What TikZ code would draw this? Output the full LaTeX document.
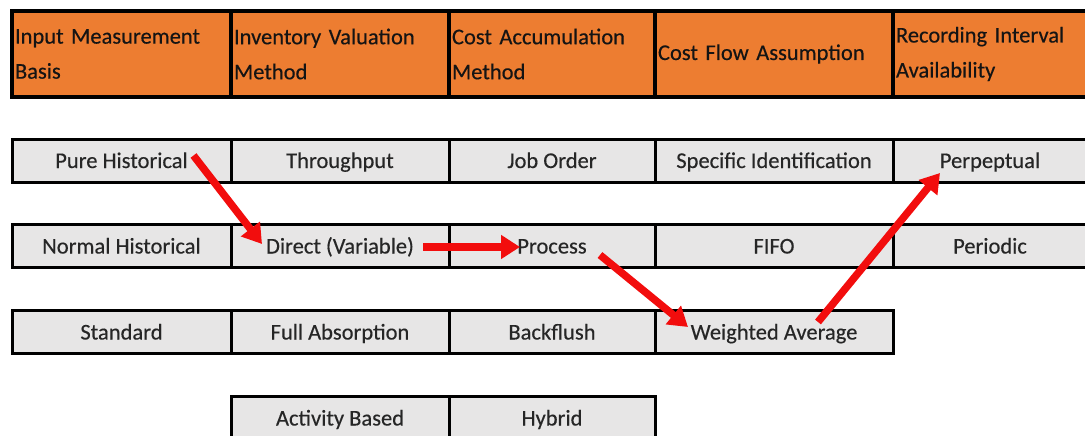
\documentclass[tikz,border=0pt]{standalone}
\usepackage{fontspec}
\setmainfont{Carlito}
\newfontfamily\cellfont{Carlito}[FakeBold=0.35]
\usetikzlibrary{arrows.meta}

\definecolor{headorange}{HTML}{ED7D31}
\definecolor{cellgray}{HTML}{E7E6E6}
\definecolor{flowred}{HTML}{F20D0D}

\tikzset{
  cell/.style={draw=black, line width=3pt, fill=cellgray, text=black!85,
    minimum height=43pt, inner sep=0pt, text height=15pt, text depth=0pt,
    font=\cellfont\fontsize{22.5}{35}\selectfont},
  head/.style={draw=black, line width=3.5pt, fill=headorange, text=black!92,
    minimum height=86pt, inner xsep=3pt, inner ysep=0pt, align=left,
    text width=#1, font=\cellfont\fontsize{22.5}{35}\selectfont},
  flow/.style={draw=flowred, line width=7.5pt,
    -{Triangle[length=19pt,width=23pt]}}
}

\begin{document}
\begin{tikzpicture}[x=1pt, y=-1pt]
  \useasboundingbox (0,0) rectangle (1085,436);
  \clip (0,0) rectangle (1085,436);
  % header row
  \node (h1) [head=213pt] at (121.5, 54) {Input Measurement\\Basis};
  \node (h2) [head=212pt] at (340, 54) {Inventory Valuation\\Method};
  \node (h3) [head=200pt] at (552, 54) {Cost Accumulation\\Method};
  \node (h4) [head=232pt] at (774, 54) {Cost Flow Assumption};
  \node (h5) [head=188pt] at (990, 54) {Recording Interval\\Availability};
  % option cells
  \begin{scope}[every node/.style={cell}]
    \node (pure) [minimum width=219pt] at (121.5, 160.5) {Pure Historical};
    \node (thru) [minimum width=218pt] at (340, 160.5) {Throughput};
    \node (job) [minimum width=206pt] at (552, 160.5) {Job Order};
    \node (spec) [minimum width=238pt] at (774, 160.5) {Specific Identification};
    \node (perp) [minimum width=194pt] at (990, 160.5) {Perpeptual};
    \node (normal) [minimum width=219pt] at (121.5, 246) {Normal Historical};
    \node (direct) [minimum width=218pt] at (340, 246) {Direct (Variable)};
    \node (process) [minimum width=206pt] at (552, 246) {Process};
    \node (fifo) [minimum width=238pt] at (774, 246) {FIFO};
    \node (periodic) [minimum width=194pt] at (990, 246) {Periodic};
    \node (standard) [minimum width=219pt] at (121.5, 332) {Standard};
    \node (full) [minimum width=218pt] at (340, 332) {Full Absorption};
    \node (backflush) [minimum width=206pt] at (552, 332) {Backflush};
    \node (wavg) [minimum width=238pt] at (774, 332) {Weighted Average};
    \node (abc) [minimum width=218pt] at (340, 418) {Activity Based};
    \node (hybrid) [minimum width=206pt] at (552, 418) {Hybrid};
  \end{scope}
  % chosen path
  \begin{scope}[flow]
    \path ([xshift=72pt,yshift=5pt]pure.center) edge ([xshift=-78pt,yshift=2pt]direct.center);
    \path ([xshift=83pt,yshift=-1pt]direct.center) edge ([xshift=-32pt,yshift=-1pt]process.center);
    \path ([xshift=48pt,yshift=-9pt]process.center) edge ([xshift=-86pt,yshift=5pt]wavg.center);
    \path ([xshift=44pt,yshift=10pt]wavg.center) edge ([xshift=-50pt,yshift=-12.5pt]perp.center);
  \end{scope}
\end{tikzpicture}
\end{document}
